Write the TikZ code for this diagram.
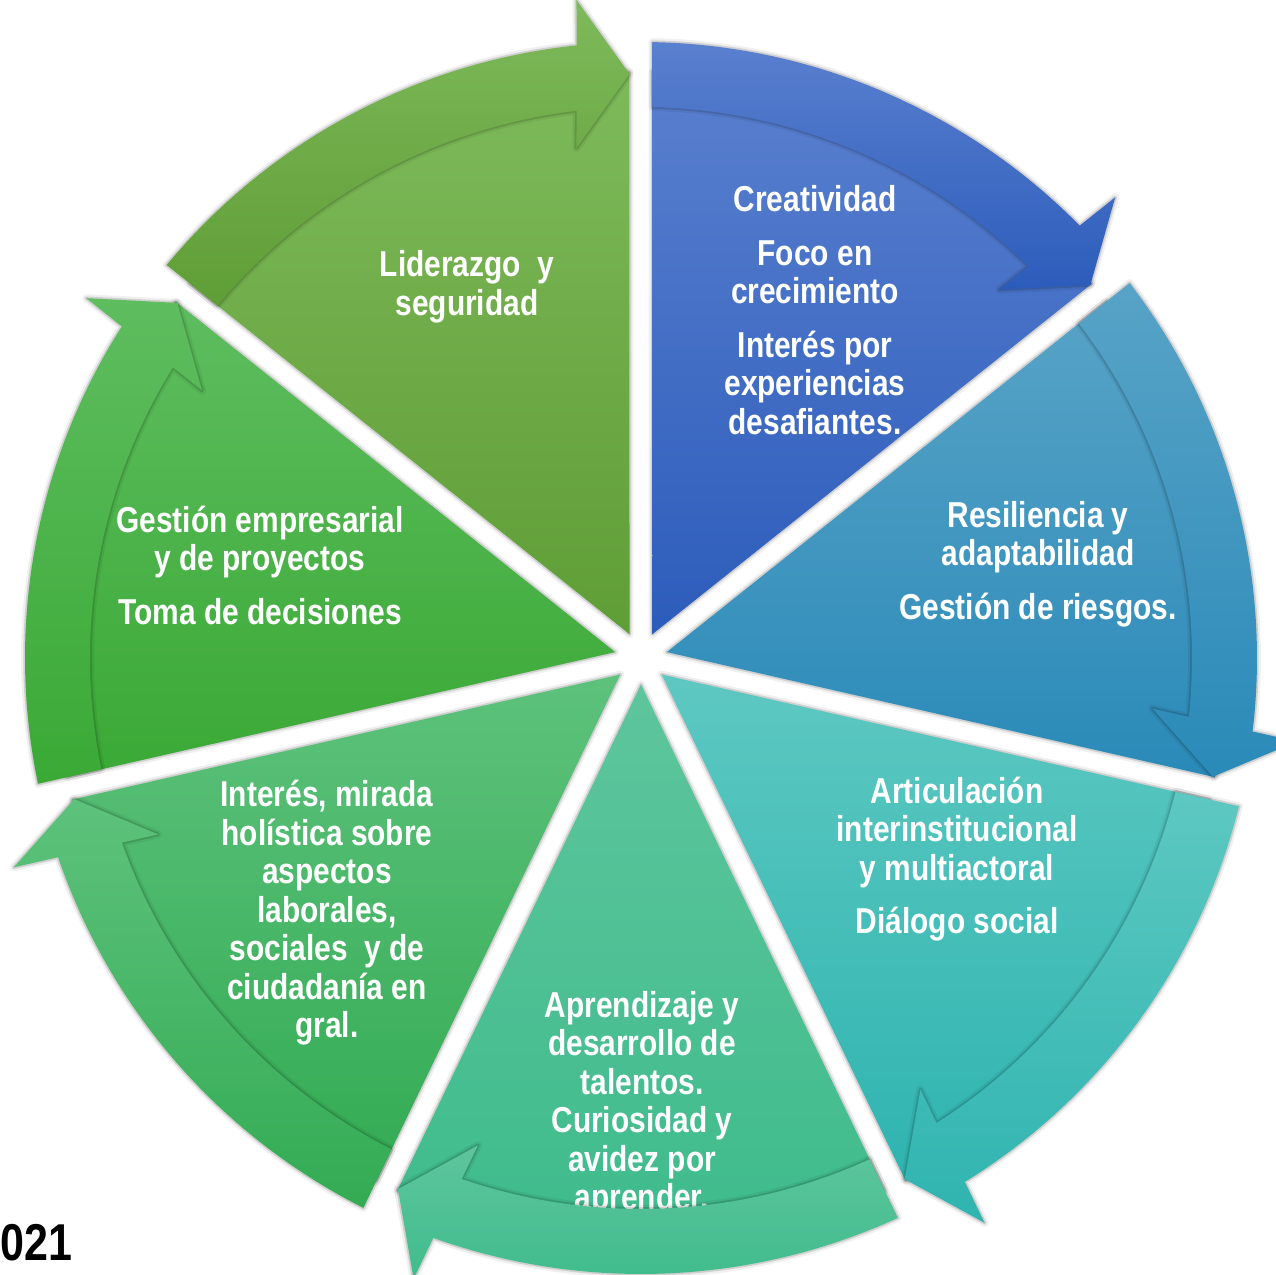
\documentclass[tikz,border=0pt]{standalone}
\usepackage{fontspec}
\newfontfamily\narrowsans[FakeStretch=0.83]{Liberation Sans}

% segment colours, top and bottom of each gradient
\definecolor{creaTop}{HTML}{5A80CF}
\definecolor{creaBot}{HTML}{2C5CBB}
\definecolor{resiTop}{HTML}{58A3C7}
\definecolor{resiBot}{HTML}{2A8AB8}
\definecolor{artiTop}{HTML}{5DC8C1}
\definecolor{artiBot}{HTML}{2FB4B0}
\definecolor{aprenTop}{HTML}{5EC59D}
\definecolor{aprenBot}{HTML}{3DBB8B}
\definecolor{interTop}{HTML}{5DC27C}
\definecolor{interBot}{HTML}{33AB53}
\definecolor{gestTop}{HTML}{5EBD5F}
\definecolor{gestBot}{HTML}{3AA935}
\definecolor{lideTop}{HTML}{7EBA5A}
\definecolor{lideBot}{HTML}{5F9D36}

\tikzset{
  segtext/.style={text=white, align=center, inner sep=0pt,
    font=\narrowsans\bfseries\fontsize{20.5}{21.9}\selectfont},
  rim/.style={draw=black, draw opacity=0.13, line width=2pt, line join=round},
  softrim/.style={draw=black, draw opacity=0.06, line width=4.5pt, line join=round}
}

% wedge of one segment, #1 = angle of its clockwise edge
\newcommand\bodypath[1]{({#1+25.71}:26.5) -- ({#1+1.125}:586)
  arc[start angle=#1+1.125, end angle=#1+50.30, radius=586] -- cycle}
% curved arrow of one segment
\newcommand\bandpath[1]{({#1+50.36}:616)
  arc[start angle=#1+50.36, end angle=#1+6.01, radius=616]
  -- ({#1+5.60}:661.2) -- ({#1+1.128}:584.1) -- ({#1+7.21}:514.1)
  -- ({#1+6.72}:551) arc[start angle=#1+6.72, end angle=#1+50.23, radius=551] -- cycle}

\begin{document}
\begin{tikzpicture}[x=0.02cm, y=0.02cm]
  \useasboundingbox[fill=white] (-641,-617) rectangle (635,658);

  % wedges
  \foreach \k/\ct/\cb in {0/creaTop/creaBot, 1/resiTop/resiBot, 2/artiTop/artiBot,
      3/aprenTop/aprenBot, 4/interTop/interBot, 5/gestTop/gestBot, 6/lideTop/lideBot} {
    \pgfmathsetmacro\e{90-51.428571*(\k+1)}
    \draw[softrim] \bodypath{\e};
    \draw[rim] \bodypath{\e};
    \shade[top color=\ct, bottom color=\cb] \bodypath{\e};
  }

  % texts
  \node[segtext] (creatividad) at (174,348) {Creatividad\\[0.3cm] Foco en\\ crecimiento\\[0.3cm]
    Interés por\\ experiencias\\ desafiantes.};
  \node[segtext] (resiliencia) at (397,94) {Resiliencia y\\ adaptabilidad\\[0.3cm] Gestión de riesgos.};
  \node[segtext] (articulacion) at (316,-201) {Articulación\\ interinstitucional\\ y multiactoral\\[0.3cm]
    Diálogo social};
  \node[segtext] (aprendizaje) at (1,-446) {Aprendizaje y\\ desarrollo de\\ talentos.\\ Curiosidad y\\
    avidez por\\ aprender.};
  \node[segtext] (interes) at (-314,-255) {Interés, mirada\\ holística sobre\\ aspectos\\ laborales,\\
    sociales~~y de\\ ciudadanía en\\ gral.};
  \node[segtext] (gestion) at (-381,93) {Gestión empresarial\\ y de proyectos\\[0.3cm] Toma de decisiones};
  \node[segtext] (liderazgo) at (-174,371) {Liderazgo~~y\\ seguridad};

  % curved arrows
  \foreach \k/\ct/\cb in {0/creaTop/creaBot, 1/resiTop/resiBot, 2/artiTop/artiBot,
      3/aprenTop/aprenBot, 4/interTop/interBot, 5/gestTop/gestBot, 6/lideTop/lideBot} {
    \pgfmathsetmacro\e{90-51.428571*(\k+1)}
    \draw[softrim] \bandpath{\e};
    \draw[rim] \bandpath{\e};
    \shade[top color=\ct, bottom color=\cb] \bandpath{\e};
  }

  \node[anchor=base west, inner sep=0pt, font=\narrowsans\bfseries\fontsize{29.5}{31}\selectfont]
    (year) at (-641,-602) {021};
\end{tikzpicture}
\end{document}
